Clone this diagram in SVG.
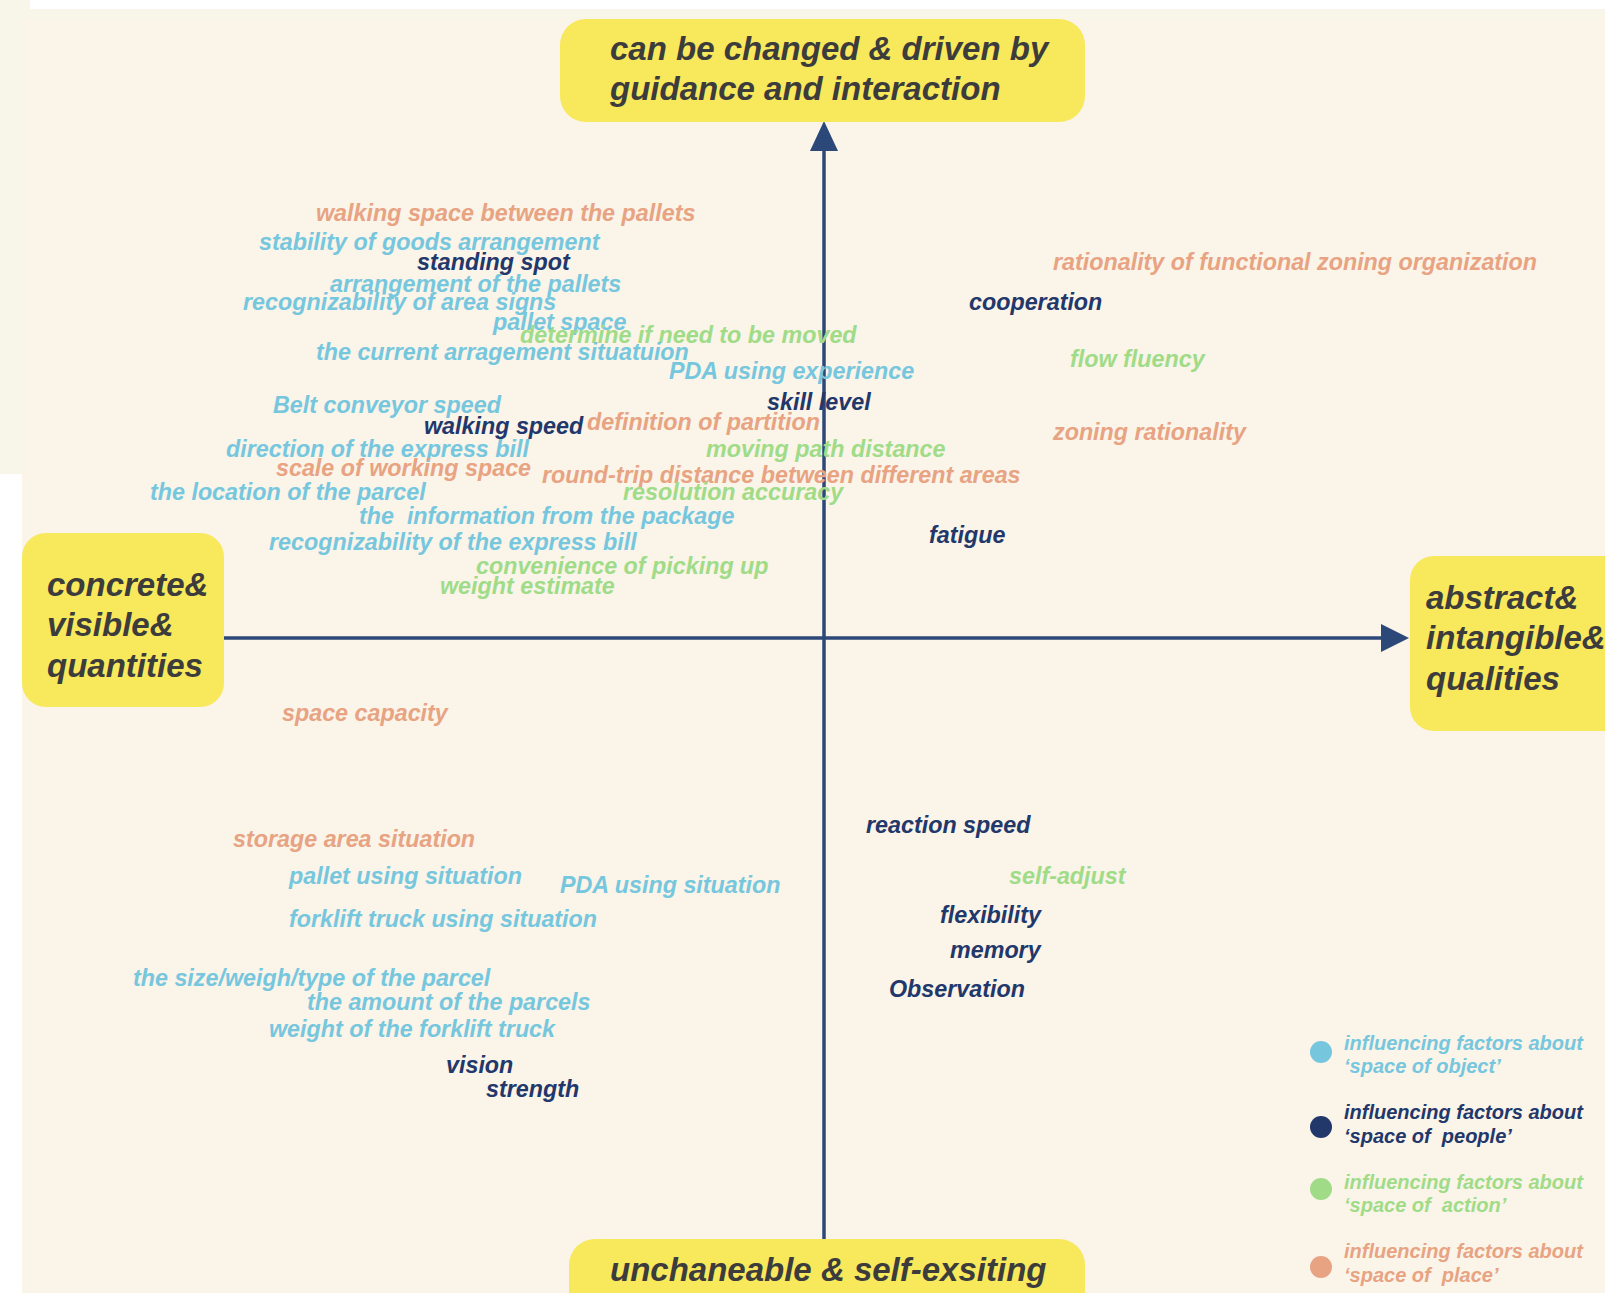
<svg xmlns="http://www.w3.org/2000/svg" width="1605" height="1293" viewBox="0 0 1605 1293">
  <style>
    .box { fill: #f8e85b; }
    .boxtxt { font-family: "Liberation Sans", Arial, sans-serif; font-weight: bold; font-style: italic; font-size: 33px; fill: #3c3c3c; }
    .lbl { font-family: "Liberation Sans", Arial, sans-serif; font-weight: bold; font-style: italic; font-size: 23.3px; white-space: pre; }
    .leg { font-family: "Liberation Sans", Arial, sans-serif; font-weight: bold; font-style: italic; font-size: 20px; white-space: pre; }
    .obj { fill: #76c7de; }
    .ppl { fill: #22376a; }
    .act { fill: #a0dc88; }
    .plc { fill: #e8a382; }
    .axis { stroke: #2c4878; stroke-width: 3.5; fill: none; }
    .head { fill: #2c4878; }
  </style>

  <!-- page background -->
  <rect x="0" y="0" width="1605" height="1293" fill="#ffffff"/>
  <rect x="0" y="0" width="30" height="19" fill="#f8f6e9"/>
  <rect x="0" y="9" width="1605" height="10" fill="#f8f6e9"/>
  <rect x="0" y="0" width="22" height="474" fill="#f8f6e9"/>
  <rect x="22" y="19" width="1583" height="1274" fill="#faf4e9"/>

  <!-- axes -->
  <g id="connectors">
    <line class="axis" x1="824" y1="148" x2="824" y2="1240"/>
    <polygon class="head" points="824,121 810,151 838,151"/>
    <line class="axis" x1="224" y1="638" x2="1384" y2="638"/>
    <polygon class="head" points="1409,638 1381,624 1381,652"/>
  </g>

  <!-- axis end boxes -->
  <g id="top-box">
    <rect class="box" x="560" y="19" width="525" height="103" rx="26"/>
    <text class="boxtxt" x="610" y="60">can be changed &amp; driven by</text>
    <text class="boxtxt" x="610" y="100">guidance and interaction</text>
  </g>
  <g id="left-box">
    <rect class="box" x="22" y="533" width="202" height="174" rx="24"/>
    <text class="boxtxt" x="47" y="596">concrete&amp;</text>
    <text class="boxtxt" x="47" y="636">visible&amp;</text>
    <text class="boxtxt" x="47" y="677">quantities</text>
  </g>
  <g id="right-box">
    <rect class="box" x="1410" y="556" width="230" height="175" rx="24"/>
    <text class="boxtxt" x="1426" y="609">abstract&amp;</text>
    <text class="boxtxt" x="1426" y="649">intangible&amp;</text>
    <text class="boxtxt" x="1426" y="690">qualities</text>
  </g>
  <g id="bottom-box">
    <rect class="box" x="569" y="1239" width="516" height="90" rx="26"/>
    <text class="boxtxt" x="610" y="1281">unchaneable &amp; self-exsiting</text>
  </g>

  <!-- factors: upper left -->
  <g id="upper-left">
    <text id="f-walking-space" class="lbl plc" x="316" y="221">walking space between the pallets</text>
    <text id="f-stability" class="lbl obj" x="259" y="250">stability of goods arrangement</text>
    <text id="f-standing-spot" class="lbl ppl" x="417" y="270">standing spot</text>
    <text id="f-arrangement" class="lbl obj" x="330" y="292">arrangement of the pallets</text>
    <text id="f-area-signs" class="lbl obj" x="243" y="310">recognizability of area signs</text>
    <text id="f-pallet-space" class="lbl obj" x="493" y="330">pallet space</text>
    <text id="f-determine" class="lbl act" x="520" y="343">determine if need to be moved</text>
    <text id="f-current" class="lbl obj" x="316" y="360">the current arragement situatuion</text>
    <text id="f-pda-exp" class="lbl obj" x="669" y="379">PDA using experience</text>
    <text id="f-skill" class="lbl ppl" x="767" y="410">skill level</text>
    <text id="f-belt" class="lbl obj" x="273" y="413">Belt conveyor speed</text>
    <text id="f-walking-speed" class="lbl ppl" x="424" y="434">walking speed</text>
    <text id="f-partition" class="lbl plc" x="587" y="430">definition of partition</text>
    <text id="f-direction" class="lbl obj" x="226" y="457">direction of the express bill</text>
    <text id="f-moving-path" class="lbl act" x="706" y="457">moving path distance</text>
    <text id="f-scale" class="lbl plc" x="276" y="476">scale of working space</text>
    <text id="f-round-trip" class="lbl plc" x="542" y="483">round-trip distance between different areas</text>
    <text id="f-location" class="lbl obj" x="150" y="500">the location of the parcel</text>
    <text id="f-resolution" class="lbl act" x="623" y="500">resolution accuracy</text>
    <text id="f-information" class="lbl obj" x="359" y="524">the  information from the package</text>
    <text id="f-bill" class="lbl obj" x="269" y="550">recognizability of the express bill</text>
    <text id="f-convenience" class="lbl act" x="476" y="574">convenience of picking up</text>
    <text id="f-weight-est" class="lbl act" x="440" y="594">weight estimate</text>
  </g>

  <!-- factors: upper right -->
  <g id="upper-right">
    <text id="f-zoning-org" class="lbl plc" x="1053" y="270">rationality of functional zoning organization</text>
    <text id="f-cooperation" class="lbl ppl" x="969" y="310">cooperation</text>
    <text id="f-flow" class="lbl act" x="1070" y="367">flow fluency</text>
    <text id="f-zoning" class="lbl plc" x="1053" y="440">zoning rationality</text>
    <text id="f-fatigue" class="lbl ppl" x="929" y="543">fatigue</text>
  </g>

  <!-- factors: lower left -->
  <g id="lower-left">
    <text id="f-capacity" class="lbl plc" x="282" y="721">space capacity</text>
    <text id="f-storage" class="lbl plc" x="233" y="847">storage area situation</text>
    <text id="f-pallet-use" class="lbl obj" x="289" y="884">pallet using situation</text>
    <text id="f-pda-use" class="lbl obj" x="560" y="893">PDA using situation</text>
    <text id="f-forklift-use" class="lbl obj" x="289" y="927">forklift truck using situation</text>
    <text id="f-size" class="lbl obj" x="133" y="986">the size/weigh/type of the parcel</text>
    <text id="f-amount" class="lbl obj" x="307" y="1010">the amount of the parcels</text>
    <text id="f-forklift-weight" class="lbl obj" x="269" y="1037">weight of the forklift truck</text>
    <text id="f-vision" class="lbl ppl" x="446" y="1073">vision</text>
    <text id="f-strength" class="lbl ppl" x="486" y="1097">strength</text>
  </g>

  <!-- factors: lower right -->
  <g id="lower-right">
    <text id="f-reaction" class="lbl ppl" x="866" y="833">reaction speed</text>
    <text id="f-self-adjust" class="lbl act" x="1009" y="884">self-adjust</text>
    <text id="f-flexibility" class="lbl ppl" x="940" y="923">flexibility</text>
    <text id="f-memory" class="lbl ppl" x="950" y="958">memory</text>
    <text id="f-observation" class="lbl ppl" x="889" y="997">Observation</text>
  </g>

  <!-- legend -->
  <g id="legend">
    <g id="legend-object">
      <circle class="obj" cx="1321" cy="1052" r="11"/>
      <text class="leg obj" x="1344" y="1050">influencing factors about</text>
      <text class="leg obj" x="1344" y="1073">‘space of object’</text>
    </g>
    <g id="legend-people">
      <circle class="ppl" cx="1321" cy="1127" r="11"/>
      <text class="leg ppl" x="1344" y="1119">influencing factors about</text>
      <text class="leg ppl" x="1344" y="1143">‘space of  people’</text>
    </g>
    <g id="legend-action">
      <circle class="act" cx="1321" cy="1189" r="11"/>
      <text class="leg act" x="1344" y="1189">influencing factors about</text>
      <text class="leg act" x="1344" y="1212">‘space of  action’</text>
    </g>
    <g id="legend-place">
      <circle class="plc" cx="1321" cy="1267" r="11"/>
      <text class="leg plc" x="1344" y="1258">influencing factors about</text>
      <text class="leg plc" x="1344" y="1282">‘space of  place’</text>
    </g>
  </g>
</svg>
